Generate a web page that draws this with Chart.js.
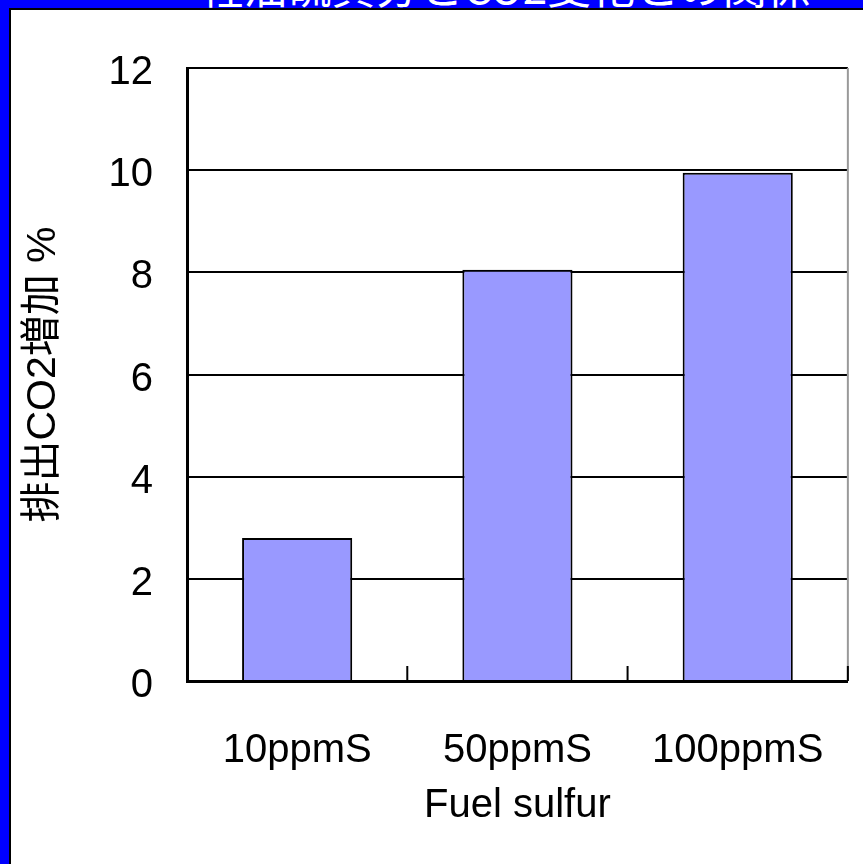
<!DOCTYPE html>
<html>
<head>
<meta charset="utf-8">
<style>
  html, body { margin: 0; padding: 0; }
  body { width: 863px; height: 864px; background: #0000ff; position: relative; overflow: hidden; }
  #topTitle {
    position: absolute; left: 0; top: 0; width: 863px; height: 8px; overflow: hidden;
  }
  #topTitle span {
    position: absolute; left: 184px; top: -37px; width: 642px; text-align: center;
    font: 44px/1 "Noto Sans CJK JP", sans-serif; color: #fff; white-space: nowrap;
  }
  #frame {
    position: absolute; left: 9px; top: 8px; width: 852px; height: 854px;
    border-left: 2px solid #000; border-top: 2px solid #000; background: #fff;
  }
  #wrap { position: absolute; left: 0; top: 0; width: 852px; height: 854px; }
</style>
</head>
<body>
<div id="topTitle"><span>軽油硫黄分とCO2変化との関係</span></div>
<div id="frame"><div id="wrap"><canvas id="co2Chart"></canvas></div></div>
<script src="https://cdn.jsdelivr.net/npm/chart.js"></script>
<script>
  const categories = ['10ppmS', '50ppmS', '100ppmS'];
  const co2Increase = [2.8, 8.05, 9.95];
  const yTicks = [0, 2, 4, 6, 8, 10, 12];

  const FONT = '"Liberation Sans", Arial, "Noto Sans CJK JP", sans-serif';

  // inside tick marks on the category axis + grey right border
  const frameMarks = {
    id: 'frameMarks',
    afterDatasetsDraw(chart) {
      const { ctx, chartArea, scales } = chart;
      const x = scales.x;
      ctx.save();
      ctx.strokeStyle = '#999';
      ctx.lineWidth = 2;
      ctx.beginPath();
      ctx.moveTo(chartArea.right, chartArea.top);
      ctx.lineTo(chartArea.right, chartArea.bottom);
      ctx.stroke();
      ctx.strokeStyle = '#000';
      ctx.lineWidth = 2;
      for (let i = 1; i <= categories.length; i++) {
        const px = i < categories.length
          ? (x.getPixelForValue(i - 1) + x.getPixelForValue(i)) / 2
          : chartArea.right;
        ctx.beginPath();
        ctx.moveTo(px, chartArea.bottom);
        ctx.lineTo(px, chartArea.bottom - 15);
        ctx.stroke();
      }
      ctx.restore();
    }
  };

  new Chart(document.getElementById('co2Chart').getContext('2d'), {
    type: 'bar',
    data: {
      labels: categories,
      datasets: [{
        data: co2Increase,
        backgroundColor: '#9999ff',
        borderColor: '#000',
        borderWidth: 2,
        barPercentage: 0.5,
        categoryPercentage: 1
      }]
    },
    options: {
      responsive: true,
      maintainAspectRatio: false,
      animation: false,
      layout: { padding: { top: 57, right: 10, left: 0, bottom: 0 } },
      plugins: { legend: { display: false }, tooltip: { enabled: false } },
      scales: {
        x: {
          afterFit: (s) => { s.height = 183; },
          grid: { display: false },
          border: { display: true, color: '#000', width: 3 },
          ticks: { color: '#000', padding: 38, font: { family: FONT, size: 40 } },
          title: {
            display: true, text: 'Fuel sulfur', color: '#000',
            padding: { top: 0, bottom: 34 }, font: { family: FONT, size: 40 }
          }
        },
        y: {
          min: 0,
          max: 12,
          afterFit: (s) => { s.width = 176; },
          afterBuildTicks: (s) => { s.ticks = yTicks.map((v) => ({ value: v })); },
          grid: { color: '#000', lineWidth: 2, drawTicks: false },
          border: { display: true, color: '#000', width: 3 },
          ticks: { color: '#000', padding: 34, labelOffset: 5, font: { family: FONT, size: 40 } },
          title: {
            display: true, text: '排出CO2増加 %', color: '#000',
            padding: { top: 8, bottom: 0 }, font: { family: FONT, size: 41 }
          }
        }
      }
    },
    plugins: [frameMarks]
  });
</script>
</body>
</html>
